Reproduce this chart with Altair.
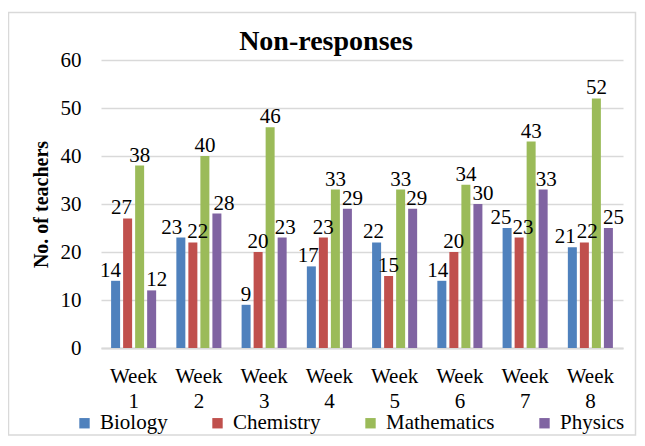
import altair as alt
import pandas as pd

weeks = ["Week 1", "Week 2", "Week 3", "Week 4", "Week 5", "Week 6", "Week 7", "Week 8"]
subjects = ["Biology", "Chemistry", "Mathematics", "Physics"]
biology = [14, 23, 9, 17, 22, 14, 25, 21]
chemistry = [27, 22, 20, 23, 15, 20, 23, 22]
mathematics = [38, 40, 46, 33, 33, 34, 43, 52]
physics = [12, 28, 23, 29, 29, 30, 33, 25]
colors = ["#4F81BD", "#C0504D", "#9BBB59", "#8064A2"]
y_ticks = [0, 10, 20, 30, 40, 50, 60]

# label nudges (px) so neighbouring value labels do not collide, as in the reference
label_nudge = {
    "Biology": [-5, -9, 0, -3, -3, -4, -6, -7],
    "Chemistry": [-6, 5, 0, 0, 0, 0, 4, 3],
    "Mathematics": [0, 0, 0, 0, 0, 0, 0, 0],
    "Physics": [5, 7, 3, 5, 4, 5, 3, 5],
}

rows = []
for s, vals in zip(subjects, [biology, chemistry, mathematics, physics]):
    for i, (w, v) in enumerate(zip(weeks, vals)):
        rows.append({"week": w, "subject": s, "value": v, "nudge": label_nudge[s][i]})
df = pd.DataFrame(rows)

FONT = "Liberation Serif"
GRID = "#d9d9d9"
FS = 21

x = alt.X(
    "week:N", sort=weeks,
    scale=alt.Scale(paddingInner=0, paddingOuter=0),
    axis=alt.Axis(
        title=None, labelExpr="split(datum.label, ' ')", labelAngle=0,
        labelFont=FONT, labelFontSize=FS, labelLineHeight=25, labelPadding=17,
        labelBaseline="top", labelColor="black", ticks=False,
        domainColor=GRID, domainWidth=2, grid=False,
    ),
)
xo = alt.XOffset("subject:N", sort=subjects,
                 scale=alt.Scale(paddingInner=0.25, paddingOuter=0.84))
y = alt.Y(
    "value:Q",
    scale=alt.Scale(domain=[0, 60], nice=False),
    axis=alt.Axis(
        values=y_ticks, title="No. of teachers", titleFont=FONT, titleFontSize=20,
        titleFontWeight="bold", titleColor="black", titleX=-60, titleBaseline="middle",
        labelFont=FONT, labelFontSize=FS, labelColor="black", labelPadding=20,
        ticks=False, domain=False, grid=True, gridColor=GRID, gridWidth=1.5,
    ),
)

bars = alt.Chart(df).mark_bar(size=9).encode(
    x=x, xOffset=xo, y=y,
    color=alt.Color(
        "subject:N", sort=subjects,
        scale=alt.Scale(domain=subjects, range=colors),
        legend=alt.Legend(
            title=None, orient="none", legendX=-27, legendY=352.5,
            direction="horizontal", columns=4, symbolType="square",
            symbolSize=108, symbolStrokeWidth=0, labelFont=FONT, labelFontSize=FS,
            labelColor="black", labelOffset=5, columnPadding=39, padding=0,
        ),
    ),
)

label_layers = []
for n in sorted(set(int(v) for v in df["nudge"])):
    label_layers.append(
        alt.Chart(df).transform_filter(alt.datum.nudge == n).mark_text(
            dx=n, dy=-4, baseline="alphabetic", font=FONT, fontSize=FS, color="black"
        ).encode(x=x, xOffset=xo, y=y, text="value:Q")
    )

border = alt.Chart(pd.DataFrame({"a": [0]})).mark_rect(
    fillOpacity=0, stroke=GRID, strokeWidth=1.5
).encode(x=alt.value(-92.5), x2=alt.value(534.5), y=alt.value(-47.5), y2=alt.value(375))

title_txt = alt.Chart(pd.DataFrame({"t": ["Non-responses"]})).mark_text(
    font=FONT, fontSize=28, fontWeight="bold", color="black",
    baseline="alphabetic", align="center"
).encode(x=alt.value(225), y=alt.value(-10), text="t:N")

chart = alt.layer(border, bars, *label_layers, title_txt).properties(
    width=522, height=288,
    autosize=alt.AutoSizeParams(type="none"),
    padding={"left": 93, "top": 52, "right": 14, "bottom": 88},
).configure_view(stroke=None)

chart.save("out.html", embed_options={"renderer": "svg", "actions": False})
